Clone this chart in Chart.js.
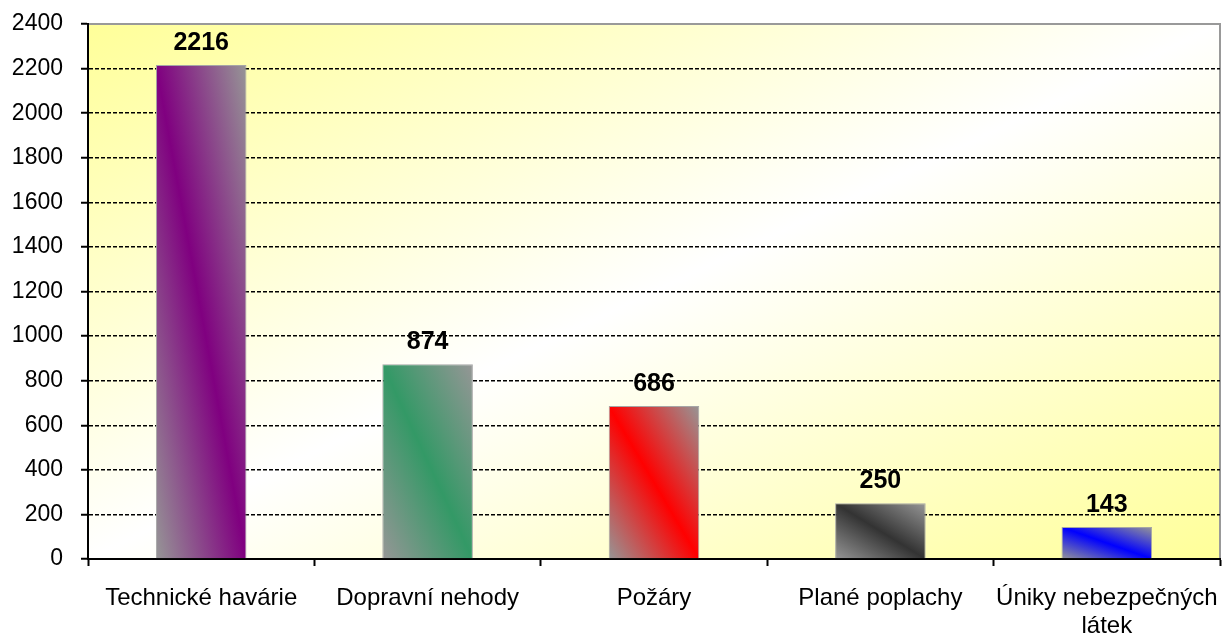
<!DOCTYPE html>
<html>
<head>
<meta charset="utf-8">
<script src="https://cdn.jsdelivr.net/npm/chart.js@4"></script>
<style>
  html, body { margin: 0; padding: 0; background: #fff; }
  #wrap { width: 1228px; height: 637px; position: relative; }
</style>
</head>
<body>
<div id="wrap"><canvas id="graf"></canvas></div>
<script>
// data ========================================================================
const kategorie = [
  "Technické havárie",
  "Dopravní nehody",
  "Požáry",
  "Plané poplachy",
  ["Úniky nebezpečných", "látek"],
];
const pocty = [2216, 874, 686, 250, 143];
const barvy = ["#800080", "#339966", "#FF0000", "#333333", "#0000FF"];
const osaY = { min: 0, max: 2400, krok: 200 };

const seda = "#969696";
const pismo = "'Liberation Sans', Arial, sans-serif";

// gradient along the bar diagonal (color in the middle, gray in corners)
function barGradient(ctx) {
  const chart = ctx.chart;
  const i = ctx.dataIndex;
  const xs = chart.scales.x, ys = chart.scales.y;
  if (!xs || !ys || i === undefined || !chart.chartArea) return barvy[i] || seda;
  const cx = xs.getPixelForValue(i);
  const w = (xs.width / kategorie.length) * 0.4;
  const top = ys.getPixelForValue(pocty[i]);
  const base = ys.getPixelForValue(0);
  const h = base - top;
  const cy = (top + base) / 2;
  const t = (w * h) / (h * h + w * w);
  const g = chart.ctx.createLinearGradient(cx - t * h, cy + t * w, cx + t * h, cy - t * w);
  g.addColorStop(0, seda);
  g.addColorStop(0.5, barvy[i]);
  g.addColorStop(1, seda);
  return g;
}

// plot area background + border, value labels
const pozadi = {
  id: "pozadi",
  beforeDraw(chart) {
    const { ctx, chartArea: a } = chart;
    const w = a.right - a.left, h = a.bottom - a.top;
    const cx = (a.left + a.right) / 2, cy = (a.top + a.bottom) / 2;
    const t = (w * h) / (h * h + w * w);
    const g = ctx.createLinearGradient(cx - t * h, cy - t * w, cx + t * h, cy + t * w);
    g.addColorStop(0, "#FFFF99");
    g.addColorStop(0.5, "#FFFFFF");
    g.addColorStop(1, "#FFFF99");
    ctx.save();
    ctx.fillStyle = g;
    ctx.fillRect(a.left, a.top, w, h);
    ctx.strokeStyle = "#999999";
    ctx.lineWidth = 2;
    ctx.strokeRect(a.left, a.top, w, h);
    ctx.restore();
  },
  afterDatasetsDraw(chart) {
    const { ctx } = chart;
    const meta = chart.getDatasetMeta(0);
    ctx.save();
    ctx.font = "bold 25px " + pismo;
    ctx.fillStyle = "#000";
    ctx.textAlign = "center";
    ctx.textBaseline = "middle";
    meta.data.forEach((bar, i) => {
      ctx.fillText(String(pocty[i]), bar.x, bar.y - 22);
    });
    ctx.restore();
  },
};

const config = {
  type: "bar",
  data: {
    labels: kategorie,
    datasets: [
      {
        data: pocty,
        backgroundColor: barGradient,
        borderColor: "#A6A6A6",
        borderWidth: 1,
        barPercentage: 0.4,
        categoryPercentage: 1.0,
      },
    ],
  },
  options: {
    responsive: true,
    maintainAspectRatio: false,
    animation: false,
    layout: { padding: { left: 0, right: 8, top: 24, bottom: 0 } },
    plugins: {
      legend: { display: false },
      tooltip: { enabled: false },
    },
    scales: {
      x: {
        grid: {
          offset: true,
          drawOnChartArea: false,
          drawTicks: true,
          tickLength: 7,
          tickColor: "#000",
          tickWidth: 2,
        },
        border: { display: true, color: "#000", width: 2 },
        ticks: {
          color: "#000",
          font: { family: pismo, size: 24, lineHeight: 1.15 },
          padding: 19,
          maxRotation: 0,
          autoSkip: false,
        },
        afterFit(s) {
          s.height = 78;
          s.paddingLeft = 0;
          s.paddingRight = 0;
        },
      },
      y: {
        min: osaY.min,
        max: osaY.max,
        grid: {
          color: (c) => (c.tick && (c.tick.value === osaY.min || c.tick.value === osaY.max) ? "rgba(0,0,0,0)" : "#000"),
          lineWidth: 1.5,
          tickLength: 7,
          tickColor: "#000",
          tickWidth: 2,
          tickBorderDash: [10, 0],
        },
        border: { display: true, color: "#000", width: 2, dash: [4, 2] },
        ticks: {
          stepSize: osaY.krok,
          color: "#000",
          font: { family: pismo, size: 23 },
          padding: 18,
          callback: (v) => String(v),
        },
        afterFit(s) {
          s.width = 88;
          s.paddingTop = 0;
          s.paddingBottom = 0;
        },
      },
    },
  },
  plugins: [pozadi],
};

const graf = new Chart(document.getElementById("graf"), config);
</script>
</body>
</html>
